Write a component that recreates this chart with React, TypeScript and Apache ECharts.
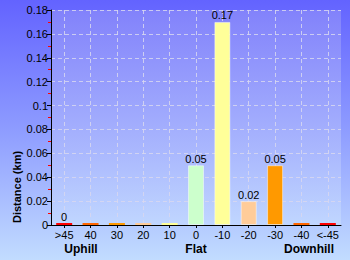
import React, { useEffect, useRef } from "react";
import * as echarts from "echarts";

const categories = [">45", "40", "30", "20", "10", "0", "-10", "-20", "-30", "-40", "<-45"];
const distances = [0.0015, 0.0015, 0.0015, 0.0015, 0.0015, 0.05, 0.17, 0.02, 0.05, 0.0015, 0.0015];
const valueLabels = ["0", "", "", "", "", "0.05", "0.17", "0.02", "0.05", "", ""];
const barColors = ["#ff0000", "#ff6600", "#ff9900", "#ffcc99", "#ffff99", "#ccffcc", "#ffff99", "#ffcc99", "#ff9900", "#ff6600", "#ff0000"];
const yTicks = [0, 0.02, 0.04, 0.06, 0.08, 0.1, 0.12, 0.14, 0.16, 0.18];
const groupLabels = [
  { text: "Uphill", x: 81 },
  { text: "Flat", x: 196 },
  { text: "Downhill", x: 309 },
];

const FONT = "Liberation Sans";
const GRID_LINE = { color: "rgba(215,215,240,0.85)", type: [4, 3], width: 1 };

export default function App() {
  const ref = useRef<HTMLDivElement>(null);
  useEffect(() => {
    const chart = echarts.init(ref.current!, null, { renderer: "svg" });
    chart.setOption({
      animation: false,
      backgroundColor: new echarts.graphic.LinearGradient(0, 0, 0, 1, [
        { offset: 0, color: "#6363ff" },
        { offset: 0.5, color: "#8e9cff" },
        { offset: 1, color: "#c2dcff" },
      ]),
      grid: {
        left: 51,
        right: 9,
        top: 10,
        bottom: 35,
        show: true,
        borderWidth: 0,
        backgroundColor: new echarts.graphic.LinearGradient(0, 0, 0, 1, [
          { offset: 0, color: "#8282fb" },
          { offset: 0.5, color: "#a0aafd" },
          { offset: 1, color: "#c0d6ff" },
        ]),
      },
      xAxis: {
        type: "category",
        data: categories,
        boundaryGap: true,
        axisLine: { show: true, lineStyle: { color: "#000", width: 1 } },
        axisTick: { show: true, alignWithLabel: true, length: 3, lineStyle: { color: "#000" } },
        axisLabel: { color: "#000", fontSize: 11, fontFamily: FONT, margin: 4, interval: 0 },
        splitLine: { show: true, alignWithLabel: true, lineStyle: GRID_LINE },
      } as any,
      yAxis: {
        type: "value",
        min: yTicks[0],
        max: yTicks[yTicks.length - 1],
        interval: 0.02,
        axisLine: { show: true, lineStyle: { color: "#000", width: 1 } },
        axisTick: { show: true, length: 4, lineStyle: { color: "#000" } },
        minorTick: { show: true, splitNumber: 2, length: 3, lineStyle: { color: "#ff0000", width: 1 } },
        axisLabel: {
          color: "#000",
          fontSize: 11,
          fontFamily: FONT,
          margin: 3,
          formatter: (v: number) => String(parseFloat(v.toFixed(2))),
        },
        splitLine: { show: true, lineStyle: GRID_LINE },
      },
      series: [
        {
          type: "bar",
          data: distances.map((v, i) => ({
            value: v,
            itemStyle: {
              color: barColors[i],
              borderWidth: v > 0.01 ? 1 : 0,
            },
          })),
          barWidth: 16,
          barMinHeight: 2,
          itemStyle: { borderColor: "rgba(255,255,255,0.45)", borderWidth: 1 },
          label: {
            show: true,
            position: "top",
            distance: 1,
            color: "#000",
            fontSize: 11,
            fontFamily: FONT,
            formatter: (p: any) => valueLabels[p.dataIndex],
          },
        },
      ],
      graphic: [
        {
          type: "text",
          x: 17,
          y: 187,
          rotation: Math.PI / 2,
          style: {
            text: "Distance (km)",
            fill: "#000",
            font: `bold 11px "${FONT}"`,
            textAlign: "center",
            textVerticalAlign: "middle",
          },
        },
        ...groupLabels.map((g) => ({
          type: "text",
          x: g.x,
          y: 249,
          style: {
            text: g.text,
            fill: "#000",
            font: `bold 12px "${FONT}"`,
            textAlign: "center",
            textVerticalAlign: "middle",
          },
        })),
      ],
    });
    return () => chart.dispose();
  }, []);
  return <div ref={ref} style={{ width: 350, height: 260, position: "absolute", left: 0, top: 0 }} />;
}
